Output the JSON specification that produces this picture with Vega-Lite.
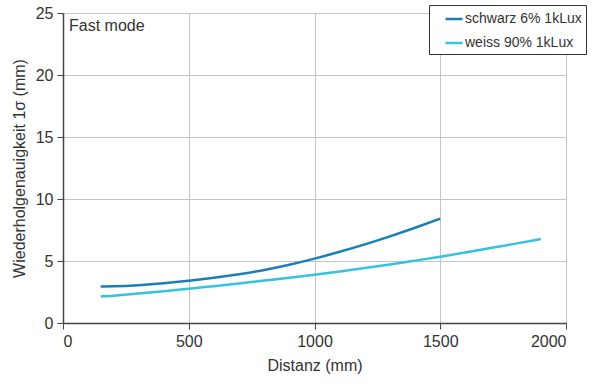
{
  "$schema": "https://vega.github.io/schema/vega-lite/v6.json",
  "autosize": "none",
  "width": 503,
  "height": 310,
  "padding": {"left": 63, "top": 13, "right": 34, "bottom": 67},
  "background": "white",
  "config": {
    "font": "Liberation Sans",
    "view": {"stroke": null},
    "axis": {
      "labelFont": "Liberation Sans",
      "titleFont": "Liberation Sans",
      "labelFontSize": 16,
      "titleFontSize": 16,
      "labelColor": "#333333",
      "titleColor": "#333333",
      "titleFontWeight": "normal",
      "gridColor": "#c4c4c4",
      "gridWidth": 1,
      "domainColor": "#444444",
      "tickColor": "#444444",
      "tickSize": 6,
      "domainWidth": 1.5,
      "format": "d"
    }
  },
  "datasets": {
    "curves": [
      {"distanz": 150, "wert": 2.95, "serie": "schwarz 6% 1kLux"},
      {"distanz": 200, "wert": 2.96, "serie": "schwarz 6% 1kLux"},
      {"distanz": 300, "wert": 3.05, "serie": "schwarz 6% 1kLux"},
      {"distanz": 400, "wert": 3.2, "serie": "schwarz 6% 1kLux"},
      {"distanz": 500, "wert": 3.4, "serie": "schwarz 6% 1kLux"},
      {"distanz": 600, "wert": 3.64, "serie": "schwarz 6% 1kLux"},
      {"distanz": 700, "wert": 3.93, "serie": "schwarz 6% 1kLux"},
      {"distanz": 800, "wert": 4.28, "serie": "schwarz 6% 1kLux"},
      {"distanz": 900, "wert": 4.7, "serie": "schwarz 6% 1kLux"},
      {"distanz": 1000, "wert": 5.19, "serie": "schwarz 6% 1kLux"},
      {"distanz": 1100, "wert": 5.74, "serie": "schwarz 6% 1kLux"},
      {"distanz": 1200, "wert": 6.34, "serie": "schwarz 6% 1kLux"},
      {"distanz": 1300, "wert": 6.99, "serie": "schwarz 6% 1kLux"},
      {"distanz": 1400, "wert": 7.68, "serie": "schwarz 6% 1kLux"},
      {"distanz": 1500, "wert": 8.41, "serie": "schwarz 6% 1kLux"},
      {"distanz": 150, "wert": 2.15, "serie": "weiss 90% 1kLux"},
      {"distanz": 200, "wert": 2.2, "serie": "weiss 90% 1kLux"},
      {"distanz": 300, "wert": 2.37, "serie": "weiss 90% 1kLux"},
      {"distanz": 400, "wert": 2.56, "serie": "weiss 90% 1kLux"},
      {"distanz": 500, "wert": 2.77, "serie": "weiss 90% 1kLux"},
      {"distanz": 600, "wert": 2.97, "serie": "weiss 90% 1kLux"},
      {"distanz": 700, "wert": 3.19, "serie": "weiss 90% 1kLux"},
      {"distanz": 800, "wert": 3.42, "serie": "weiss 90% 1kLux"},
      {"distanz": 900, "wert": 3.65, "serie": "weiss 90% 1kLux"},
      {"distanz": 1000, "wert": 3.9, "serie": "weiss 90% 1kLux"},
      {"distanz": 1100, "wert": 4.16, "serie": "weiss 90% 1kLux"},
      {"distanz": 1200, "wert": 4.43, "serie": "weiss 90% 1kLux"},
      {"distanz": 1300, "wert": 4.72, "serie": "weiss 90% 1kLux"},
      {"distanz": 1400, "wert": 5.03, "serie": "weiss 90% 1kLux"},
      {"distanz": 1500, "wert": 5.35, "serie": "weiss 90% 1kLux"},
      {"distanz": 1600, "wert": 5.69, "serie": "weiss 90% 1kLux"},
      {"distanz": 1700, "wert": 6.04, "serie": "weiss 90% 1kLux"},
      {"distanz": 1800, "wert": 6.4, "serie": "weiss 90% 1kLux"},
      {"distanz": 1900, "wert": 6.77, "serie": "weiss 90% 1kLux"}
    ],
    "note": [{"distanz": 0, "wert": 25, "label": "Fast mode"}]
  },
  "layer": [
    {
      "data": {"name": "curves"},
      "mark": {"type": "line", "interpolate": "natural", "strokeWidth": 2.5},
      "encoding": {
        "x": {
          "field": "distanz", "type": "quantitative",
          "scale": {"domain": [0, 2000], "nice": false},
          "axis": {"title": "Distanz (mm)", "values": [0, 500, 1000, 1500, 2000], "titlePadding": 8, "labelPadding": 4}
        },
        "y": {
          "field": "wert", "type": "quantitative",
          "scale": {"domain": [0, 25], "nice": false},
          "axis": {"title": "Wiederholgenauigkeit 1σ (mm)", "values": [0, 5, 10, 15, 20, 25], "titlePadding": 8, "labelPadding": 4}
        },
        "color": {
          "field": "serie", "type": "nominal",
          "scale": {"domain": ["schwarz 6% 1kLux", "weiss 90% 1kLux"], "range": ["#1c7eb8", "#34c2dc"]},
          "legend": {
            "title": null,
            "orient": "none",
            "legendX": 366,
            "legendY": -8,
            "strokeColor": "#333333",
            "fillColor": "white",
            "padding": 4,
            "symbolOffset": 11,
            "symbolType": "stroke",
            "symbolSize": 289,
            "symbolStrokeWidth": 2.5,
            "labelFontSize": 14,
            "labelFont": "Liberation Sans",
            "labelColor": "#333333",
            "labelOffset": 1,
            "rowPadding": 7,
            "labelLimit": 200
          }
        }
      }
    },
    {
      "data": {"name": "note"},
      "mark": {"type": "text", "align": "left", "baseline": "top", "dx": 6, "dy": 5, "fontSize": 16, "font": "Liberation Sans", "color": "#333333"},
      "encoding": {
        "x": {"field": "distanz", "type": "quantitative"},
        "y": {"field": "wert", "type": "quantitative"},
        "text": {"field": "label"}
      }
    }
  ]
}
